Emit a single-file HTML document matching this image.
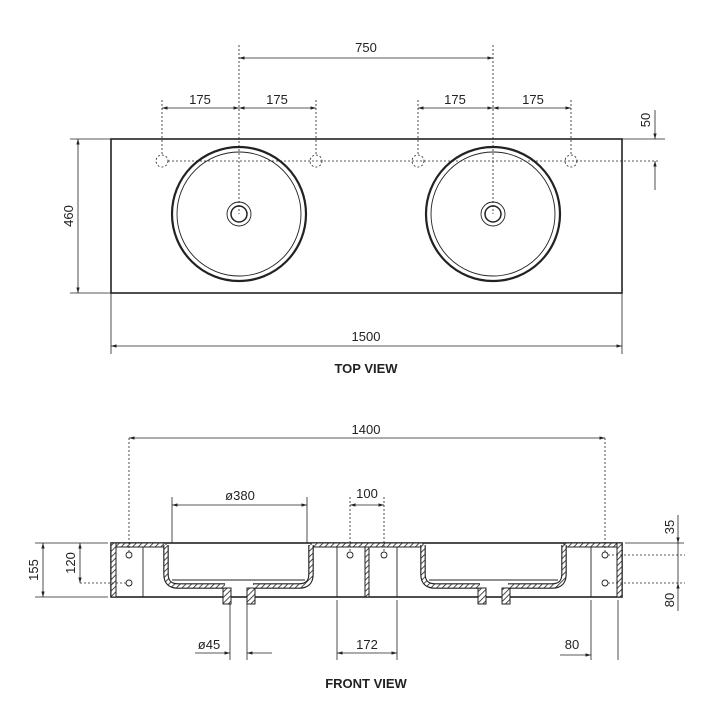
<!DOCTYPE html>
<html><head><meta charset="utf-8"><style>
html,body{margin:0;padding:0;background:#fff}
svg{display:block}
text{font-family:"Liberation Sans",sans-serif;fill:#222}
</style></head><body>
<svg width="720" height="720" viewBox="0 0 720 720" xmlns="http://www.w3.org/2000/svg">
<defs>
<pattern id="h" width="4" height="4" patternUnits="userSpaceOnUse" patternTransform="rotate(45)">
<rect width="4" height="4" fill="#fff"/><line x1="0" y1="0" x2="0" y2="4" stroke="#222" stroke-width="1.6"/></pattern>
<marker id="a" viewBox="0 0 10 10" refX="10" refY="5" markerWidth="7" markerHeight="7" orient="auto-start-reverse"><path d="M0,2 L10,5 L0,8z" fill="#222"/></marker>
</defs>
<g stroke="#222" fill="none">
<!-- TOP VIEW -->
<rect x="111" y="139" width="511" height="154" stroke-width="1.6"/>
<g stroke-width="2.2"><circle cx="239" cy="214" r="67"/><circle cx="493" cy="214" r="67"/></g>
<g stroke-width="0.9"><circle cx="239" cy="214" r="62"/><circle cx="493" cy="214" r="62"/>
<circle cx="239" cy="214" r="12"/><circle cx="493" cy="214" r="12"/></g>
<g stroke-width="1.5"><circle cx="239" cy="214" r="8"/><circle cx="493" cy="214" r="8"/></g>
<g stroke-width="0.8" stroke-dasharray="2,2">
<circle cx="162" cy="161" r="6"/><circle cx="316" cy="161" r="6"/><circle cx="418" cy="161" r="6"/><circle cx="571" cy="161" r="6"/>
<line x1="168" y1="161" x2="660" y2="161"/>
<line x1="239" y1="45" x2="239" y2="214"/><line x1="493" y1="45" x2="493" y2="214"/>
<line x1="162" y1="100" x2="162" y2="155"/><line x1="316" y1="100" x2="316" y2="155"/>
<line x1="418" y1="100" x2="418" y2="155"/><line x1="571" y1="100" x2="571" y2="155"/>
</g>
<g stroke-width="0.8">
<line x1="239" y1="58" x2="493" y2="58" marker-start="url(#a)" marker-end="url(#a)"/>
<line x1="162" y1="108" x2="239" y2="108" marker-start="url(#a)" marker-end="url(#a)"/>
<line x1="239" y1="108" x2="316" y2="108" marker-start="url(#a)" marker-end="url(#a)"/>
<line x1="418" y1="108" x2="493" y2="108" marker-start="url(#a)" marker-end="url(#a)"/>
<line x1="493" y1="108" x2="571" y2="108" marker-start="url(#a)" marker-end="url(#a)"/>
<line x1="622" y1="139" x2="665" y2="139"/>
<line x1="655" y1="110" x2="655" y2="139" marker-end="url(#a)"/>
<line x1="655" y1="190" x2="655" y2="161" marker-end="url(#a)"/>
<line x1="70" y1="139" x2="111" y2="139"/><line x1="70" y1="293" x2="111" y2="293"/>
<line x1="78" y1="139" x2="78" y2="293" marker-start="url(#a)" marker-end="url(#a)"/>
<line x1="111" y1="293" x2="111" y2="354"/><line x1="622" y1="293" x2="622" y2="354"/>
<line x1="111" y1="346" x2="622" y2="346" marker-start="url(#a)" marker-end="url(#a)"/>
</g>
<!-- FRONT VIEW -->
<rect x="111" y="543" width="511" height="54" stroke-width="1.6"/>
<g fill="url(#h)" stroke-width="1">
<rect x="111" y="543" width="5" height="54"/>
<rect x="617" y="543" width="5" height="54"/>
<rect x="116" y="543" width="50" height="4"/>
<rect x="311" y="543" width="112" height="4"/>
<rect x="564" y="543" width="53" height="4"/>
<rect x="365" y="547" width="4" height="50"/>
<rect x="223" y="588" width="8" height="16"/><rect x="247" y="588" width="8" height="16"/>
<rect x="478" y="588" width="8" height="16"/><rect x="502" y="588" width="8" height="16"/>
</g>
<g id="basins">
<path d="M166,545 V574 Q166,586 178,586 H225 M253,586 H299 Q311,586 311,574 V545" stroke="#222" stroke-width="5.5"/>
<path d="M166,545 V574 Q166,586 178,586 H225 M253,586 H299 Q311,586 311,574 V545" stroke="url(#h)" stroke-width="3.2"/>
<path d="M423,545 V574 Q423,586 435,586 H480 M508,586 H552 Q564,586 564,574 V545" stroke="#222" stroke-width="5.5"/>
<path d="M423,545 V574 Q423,586 435,586 H480 M508,586 H552 Q564,586 564,574 V545" stroke="url(#h)" stroke-width="3.2"/>
</g>
<g stroke-width="0.9">
<line x1="172" y1="580" x2="305" y2="580"/><line x1="429" y1="580" x2="558" y2="580"/>
<line x1="143" y1="547" x2="143" y2="597"/><line x1="337" y1="547" x2="337" y2="597"/>
<line x1="397" y1="547" x2="397" y2="597"/><line x1="591" y1="547" x2="591" y2="597"/>
<circle cx="129" cy="555" r="3"/><circle cx="129" cy="583" r="3"/>
<circle cx="350" cy="555" r="3"/><circle cx="384" cy="555" r="3"/>
<circle cx="605" cy="555" r="3"/><circle cx="605" cy="583" r="3"/>
</g>
<g stroke-width="0.8" stroke-dasharray="2,2">
<line x1="129" y1="438" x2="129" y2="552"/><line x1="605" y1="438" x2="605" y2="552"/>
<line x1="350" y1="497" x2="350" y2="552"/><line x1="384" y1="497" x2="384" y2="552"/>
<line x1="80" y1="583" x2="126" y2="583"/>
<line x1="608" y1="555" x2="685" y2="555"/><line x1="608" y1="583" x2="685" y2="583"/>
</g>
<g stroke-width="0.8">
<line x1="129" y1="438" x2="605" y2="438" marker-start="url(#a)" marker-end="url(#a)"/>
<line x1="172" y1="497" x2="172" y2="543"/><line x1="307" y1="497" x2="307" y2="543"/>
<line x1="172" y1="505" x2="307" y2="505" marker-start="url(#a)" marker-end="url(#a)"/>
<line x1="350" y1="505" x2="384" y2="505" marker-start="url(#a)" marker-end="url(#a)"/>
<line x1="35" y1="543" x2="108" y2="543"/><line x1="35" y1="597" x2="108" y2="597"/>
<line x1="43" y1="543" x2="43" y2="597" marker-start="url(#a)" marker-end="url(#a)"/>
<line x1="80" y1="543" x2="80" y2="583" marker-start="url(#a)" marker-end="url(#a)"/>
<line x1="625" y1="543" x2="684" y2="543"/>
<line x1="678" y1="515" x2="678" y2="543" marker-end="url(#a)"/>
<line x1="678" y1="543" x2="678" y2="583"/>
<line x1="678" y1="611" x2="678" y2="583" marker-end="url(#a)"/>
<line x1="230" y1="604" x2="230" y2="660"/><line x1="247" y1="604" x2="247" y2="660"/>
<line x1="195" y1="653" x2="230" y2="653" marker-end="url(#a)"/>
<line x1="272" y1="653" x2="247" y2="653" marker-end="url(#a)"/>
<line x1="337" y1="600" x2="337" y2="660"/><line x1="397" y1="600" x2="397" y2="660"/>
<line x1="337" y1="653" x2="397" y2="653" marker-start="url(#a)" marker-end="url(#a)"/>
<line x1="591" y1="600" x2="591" y2="660"/><line x1="618" y1="600" x2="618" y2="660"/>
<line x1="560" y1="655" x2="591" y2="655" marker-end="url(#a)"/>
</g>
</g>
<g font-size="13" text-anchor="middle">
<text x="366" y="52">750</text>
<text x="200" y="104">175</text><text x="277" y="104">175</text>
<text x="455" y="104">175</text><text x="533" y="104">175</text>
<text transform="translate(650,120) rotate(-90)">50</text>
<text transform="translate(73,216) rotate(-90)">460</text>
<text x="366" y="341">1500</text>
<text x="366" y="373" font-weight="bold" font-size="13">TOP VIEW</text>
<text x="366" y="434">1400</text>
<text x="240" y="500">ø380</text>
<text x="367" y="498">100</text>
<text transform="translate(38,570) rotate(-90)">155</text>
<text transform="translate(75,563) rotate(-90)">120</text>
<text transform="translate(674,527) rotate(-90)">35</text>
<text transform="translate(674,600) rotate(-90)">80</text>
<text x="209" y="649">ø45</text>
<text x="367" y="649">172</text>
<text x="572" y="649">80</text>
<text x="366" y="688" font-weight="bold" font-size="13">FRONT VIEW</text>
</g>
</svg>
</body></html>
